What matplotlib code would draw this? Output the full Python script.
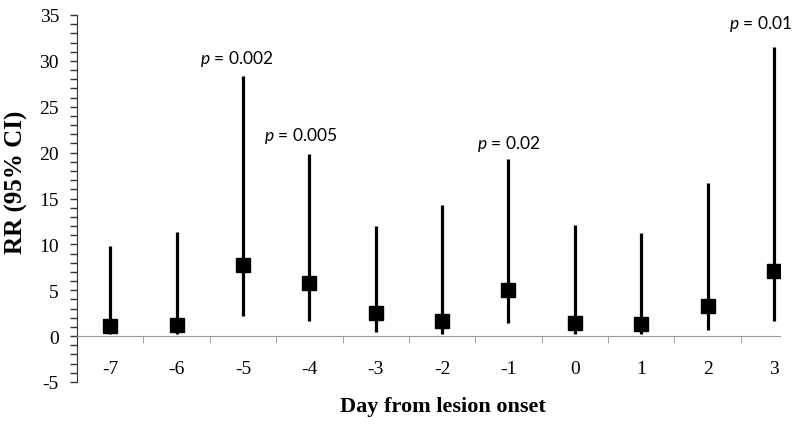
import numpy as np
import matplotlib
matplotlib.use('Agg')
import matplotlib.pyplot as plt
from matplotlib.ticker import MultipleLocator, FixedLocator

# 数据：距离病变出现的天数，RR 及 95% CI
days = [-7, -6, -5, -4, -3, -2, -1, 0, 1, 2, 3]
rr = [1.1, 1.2, 7.8, 5.8, 2.5, 1.7, 5.0, 1.4, 1.3, 3.3, 7.1]
ci_low = [0.2, 0.2, 2.2, 1.7, 0.5, 0.2, 1.4, 0.2, 0.2, 0.7, 1.6]
ci_high = [9.8, 11.3, 28.4, 19.8, 12.0, 14.3, 19.3, 12.1, 11.2, 16.7, 31.5]

# p 值标注
p_days = [-5, -4, -1, 3]
p_labels = ['0.002', '0.005', '0.02', '0.01']
p_y = [30.3, 21.9, 21.0, 34.1]
p_dx = [-0.09, -0.13, 0.0, -0.2]

plt.rcParams['mathtext.fontset'] = 'custom'
plt.rcParams['mathtext.it'] = 'Lato:italic'
plt.rcParams['mathtext.rm'] = 'Lato'
plt.rcParams['axes.unicode_minus'] = False

fig = plt.figure(figsize=(8, 4.27), dpi=100)
ax = fig.add_axes([77 / 800, 1 - 383 / 427, (780 - 77) / 800, (383 - 16) / 427])

x = np.arange(len(days))
rr = np.array(rr)
yerr = [rr - np.array(ci_low), np.array(ci_high) - rr]
ax.errorbar(x, rr, yerr=yerr, fmt='s', color='black', ecolor='black',
            elinewidth=2.3, capsize=0, markersize=10)

for d, lab, yy, dx in zip(p_days, p_labels, p_y, p_dx):
    i = days.index(d)
    ax.text(i + dx, yy, r'$\it{p}$' + ' = ' + lab, ha='center', va='center',
            fontsize=12.5, family='Lato')

ax.set_xlim(-0.5, len(days) - 1 + 0.09)
ax.set_ylim(-5, 35)

# y 轴
ax.yaxis.set_major_locator(MultipleLocator(5))
ax.yaxis.set_minor_locator(MultipleLocator(1))
ax.tick_params(axis='y', which='both', direction='out', length=5, width=1,
               color='#333333', labelsize=14)
ax.tick_params(axis='y', which='major', pad=8)
for lab in ax.get_yticklabels():
    lab.set_family('Liberation Serif')

# x 轴放在 y=0
ax.spines['bottom'].set_position(('data', 0))
ax.spines['bottom'].set_color('#999999')
ax.spines['left'].set_color('#333333')
ax.spines['top'].set_visible(False)
ax.spines['right'].set_visible(False)
ax.xaxis.set_major_locator(FixedLocator(x))
ax.xaxis.set_minor_locator(FixedLocator(x[:-1] + 0.5))
ax.set_xticklabels([str(d) for d in days], family='Liberation Serif', fontsize=14)
ax.tick_params(axis='x', which='major', length=0, pad=17)
ax.tick_params(axis='x', which='minor', length=5, color='#999999', direction='out')

fig.text(16 / 800, 1 - 182 / 427, 'RR (95% CI)', rotation=90,
         family='Liberation Serif', fontweight='bold', fontsize=18, ha='center', va='center')
fig.text(443 / 800, 1 - 407 / 427, 'Day from lesion onset',
         family='Liberation Serif', fontweight='bold', fontsize=16, ha='center', va='center')

plt.savefig('out.png', dpi=100)
